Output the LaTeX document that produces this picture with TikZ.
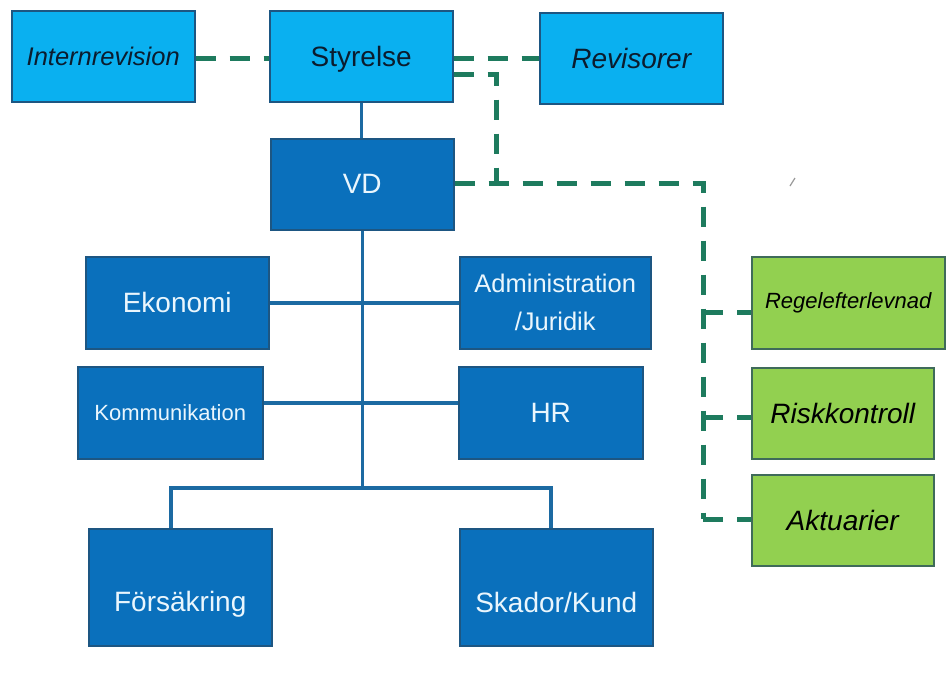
\documentclass[tikz,border=0pt]{standalone}
\usepackage{fontspec}
\setmainfont{Liberation Sans}
\definecolor{lblue}{HTML}{0AB0F0}
\definecolor{dblue}{HTML}{0A70BC}
\definecolor{lgreen}{HTML}{92D050}
\definecolor{bordc}{HTML}{1D5682}
\definecolor{greenb}{HTML}{3F6B5A}
\definecolor{dashc}{HTML}{1E7B5E}
\definecolor{conc}{HTML}{1C6AA2}
\definecolor{txtdark}{HTML}{0B1C2E}
\definecolor{txtlight}{HTML}{EAF6FD}
\begin{document}
\begin{tikzpicture}[x=1pt,y=-1pt,
  box/.style={draw=bordc, line width=1.5pt, anchor=north west, inner sep=0pt, align=center,
              font=\fontsize{28}{32}\selectfont},
  lbox/.style={box, fill=lblue, text=txtdark},
  dbox/.style={box, fill=dblue, text=txtlight},
  gbox/.style={box, fill=lgreen, draw=greenb, text=black, font=\itshape\fontsize{28}{32}\selectfont},
  dtext/.style={text=txtlight, inner sep=0pt, font=\fontsize{28}{32}\selectfont},
  ltext/.style={text=txtdark, inner sep=0pt, font=\fontsize{28}{32}\selectfont},
  conn/.style={draw=conc, line width=3.5pt},
  dconn/.style={draw=dashc, line width=5pt, dash pattern=on 20pt off 14pt}
]
\useasboundingbox (0,0) rectangle (946,673);
\fill[white] (0,0) rectangle (946,673);

% top row
\node[lbox, minimum width=183pt, minimum height=91pt, font=\itshape\fontsize{25.5}{30}\selectfont] (intrev) at (11,10) {Internrevision};
\node[lbox, minimum width=183pt, minimum height=91pt] (styr) at (269,10) {};
\node[ltext] (styrt) at ([yshift=-3pt]styr.center) {Styrelse};
\node[lbox, minimum width=183pt, minimum height=91pt, font=\itshape\fontsize{28}{32}\selectfont] (rev) at (539,12) {Revisorer};

% VD
\node[dbox, minimum width=183pt, minimum height=91pt] (vd) at (270,138) {VD};

% staff
\node[dbox, minimum width=183pt, minimum height=92pt] (eko) at (85,256) {Ekonomi};
\node[dbox, minimum width=191pt, minimum height=92pt, font=\fontsize{25.5}{38}\selectfont] (adm) at (459,256) {Administration\\/Juridik};
\node[dbox, minimum width=185pt, minimum height=92pt, font=\fontsize{22}{26}\selectfont] (kom) at (77,366) {Kommunikation};
\node[dbox, minimum width=184pt, minimum height=92pt] (hr) at (458,366) {HR};

% bottom
\node[dbox, minimum width=183pt, minimum height=117pt] (fors) at (88,528) {};
\node[dtext] (forst) at ([yshift=-17pt]fors.center) {Försäkring};
\node[dbox, minimum width=193pt, minimum height=117pt] (skad) at (459,528) {};
\node[dtext] (skadt) at ([yshift=-15pt]skad.center) {Skador/Kund};

% green
\node[gbox, minimum width=193pt, minimum height=92pt, font=\itshape\fontsize{22}{26}\selectfont] (regel) at (751,256) {Regelefterlevnad};
\node[gbox, minimum width=182pt, minimum height=91pt] (risk) at (751,367) {Riskkontroll};
\node[gbox, minimum width=182pt, minimum height=91pt] (akt) at (751,474) {Aktuarier};

% solid connectors
\coordinate (busL) at (171,488);
\coordinate (busR) at (551,488);
\draw[conn] (styr.south) -- (vd.north -| styr.south);
\draw[conn] (vd.south) -- (vd.south |- busL);
\draw[conn] (eko.east) -- (adm.west);
\draw[conn] ([yshift=10pt]kom.east) -- ([yshift=10pt]hr.west);
\draw[conn] (fors.north -| busL) -- (busL) -- (busR) -- (skad.north -| busR);

% dashed connectors
\coordinate (sd1) at (496,74);
\coordinate (vdr) at (703,183);
\coordinate (vdb) at (703,519);
\draw[dconn] ([yshift=-2pt]intrev.east) -- ([yshift=-2pt]styr.west);
\draw[dconn] (styr.east |- rev.west) -- (rev.west);
\draw[dconn] (styr.east |- sd1) -- (sd1) -- (sd1 |- vdr);
\draw[dconn] (vd.east |- vdr) -- (vdr) -- (vdb);
\draw[dconn] (703,312) -- (regel.west |- 0,312);
\draw[dconn] (703,417) -- (risk.west |- 0,417);
\draw[dconn] (vdb) -- (akt.west |- vdb);

% small stray mark
\draw[gray!80, line width=1.2pt] (790,186) -- (795,178);
\end{tikzpicture}
\end{document}
